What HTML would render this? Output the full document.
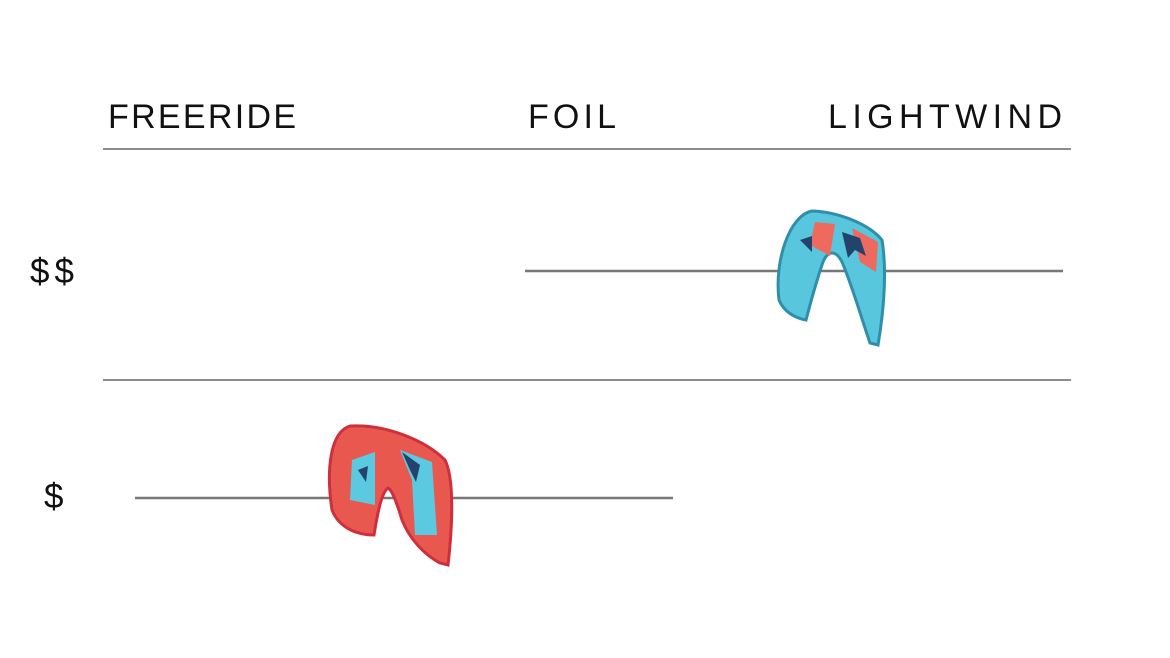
<!DOCTYPE html>
<html><head><meta charset="utf-8"><style>
html,body{margin:0;padding:0;background:#fff;}
svg{display:block;}
text{font-family:"Liberation Sans",sans-serif;fill:#111;}
</style></head><body>
<svg width="1170" height="658" viewBox="0 0 1170 658" xmlns="http://www.w3.org/2000/svg">
<rect width="1170" height="658" fill="#fff"/>
<text x="108" y="128" font-size="34" textLength="188" lengthAdjust="spacing">FREERIDE</text>
<text x="528" y="128" font-size="34" textLength="88" lengthAdjust="spacing">FOIL</text>
<text x="828" y="128" font-size="34" textLength="234" lengthAdjust="spacing">LIGHTWIND</text>
<line x1="103" y1="149" x2="1071" y2="149" stroke="#666" stroke-width="1.5"/>
<line x1="103" y1="380" x2="1071" y2="380" stroke="#666" stroke-width="1.5"/>
<text x="30" y="283" font-size="35" textLength="44" lengthAdjust="spacing">$$</text>
<text x="44" y="508" font-size="35">$</text>
<line x1="525" y1="271" x2="1063" y2="271" stroke="#777" stroke-width="2.5"/>
<line x1="135" y1="498" x2="673" y2="498" stroke="#777" stroke-width="2.5"/>
<!-- blue kite -->
<g>
<path d="M779,300 C774,260 790,215 812,211 C840,212 870,225 882,240 C887,270 884,310 878,345 L870,343 C862,320 852,285 842,262 C836,250 828,250 823,262 C815,285 810,305 806,320 C795,318 784,312 779,300 Z" fill="#58c6dc" stroke="#2f8fab" stroke-width="3"/>
<path d="M815,222 L835,224 L830,256 L810,245 Z" fill="#ef6a5e"/>
<path d="M852,228 L878,242 L876,272 L860,262 Z" fill="#ef6a5e"/>
<path d="M842,232 L860,238 L866,256 L855,250 L848,258 Z" fill="#22436c"/>
<path d="M800,240 L812,236 L812,252 Z" fill="#22436c"/>
</g>
<!-- red kite -->
<g>
<path d="M332,510 C326,470 330,432 350,426 C385,424 425,440 445,460 C455,480 452,530 448,565 L440,563 C425,555 410,540 402,520 C396,500 392,490 388,488 C382,492 378,510 374,535 C360,535 340,530 332,510 Z" fill="#e9584f" stroke="#cf2f3c" stroke-width="3"/>
<path d="M352,460 L375,452 L375,505 L350,500 Z" fill="#5bc9e0"/>
<path d="M400,450 L432,462 L437,535 L415,535 L412,480 Z" fill="#5bc9e0"/>
<path d="M402,452 L420,465 L416,482 L410,470 Z" fill="#22436c"/>
<path d="M358,470 L368,466 L366,482 Z" fill="#22436c"/>
</g>
</svg>
</body></html>
